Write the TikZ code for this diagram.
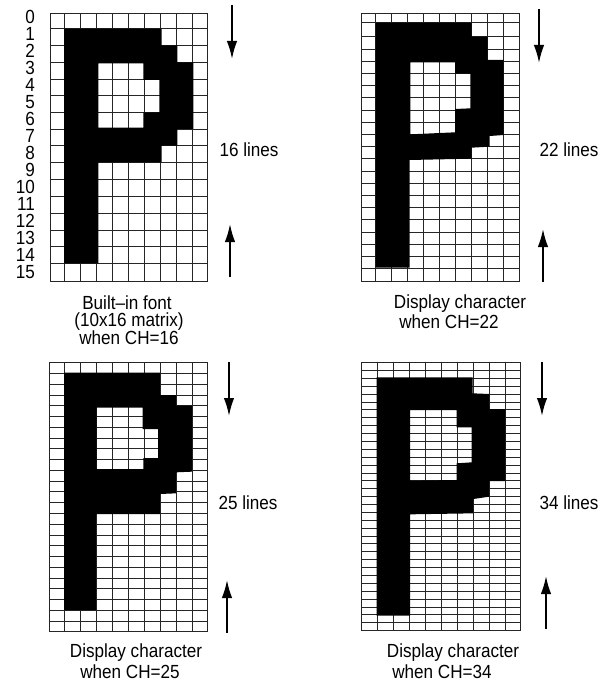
\documentclass[tikz,border=0pt]{standalone}
\usepackage{fontspec}
\setmainfont{Liberation Sans}
\newfontfamily\tallfont[FakeStretch=0.9]{Liberation Sans}
\usetikzlibrary{arrows.meta}
\tikzset{
  gridline/.style={draw=black!85,line width=1pt},
  glyph/.style={fill=black,even odd rule},
  txt/.style={inner sep=0pt,font=\tallfont\fontsize{19}{20}\selectfont},
  bigarrow/.style={-{Latex[length=18pt,width=10.5pt]},line width=1.8pt,black}
}
\newcommand{\gridlines}[6]{% x-list, y-list, xmin, xmax, ymin, ymax (snapped to whole pixels)
  \foreach \gx in {#1} {\pgfmathsetmacro\sx{3*(floor(\gx/3)+0.5)}\draw[gridline,line cap=rect] (\sx,#5) -- (\sx,#6);}
  \foreach \gy in {#2} {\pgfmathsetmacro\sy{3*(floor(\gy/3)+0.5)}\draw[gridline,line cap=rect] (#3,\sy) -- (#4,\sy);}
}
\begin{document}
\begin{tikzpicture}[x=1pt,y=-1pt]
\useasboundingbox (0,0) rectangle (608,682);
\fill[white] (0,0) rectangle (608,682);

% panel 1
\begin{scope}[scale=1/3]
\gridlines{150,192,240,288,336,384,432,480,528,576,622}{40,86,136,187,237,287,337,387,437,487,537,590,640,690,740,790,843}{151.5}{622.5}{40.5}{843}
\path[glyph] (192,86)--(485,86)--(485,136)--(532,136)--(532,187)--(580,187)--(580,387)--(532,387)--(532,437)--(485,437)--(485,487)--(295,487)--(295,790)--(192,790)--cycle
 (295,190)--(430,190)--(430,240)--(478,240)--(478,337)--(430,337)--(430,383)--(295,383)--cycle;
\end{scope}
\foreach \n in {0,...,15} {
  \node[txt,anchor=east] (row\n) at (35,{17+\n*17}) {\n};
}
\coordinate (a1s) at (232,5);  \coordinate (a1e) at (232,59);
\coordinate (b1s) at (230,277); \coordinate (b1e) at (230,224);
\draw[bigarrow] (a1s) -- (a1e);
\draw[bigarrow] (b1s) -- (b1e);
\node[txt] (l1) at (249,150) {16 lines};
\node[txt] (c1a) at (127,303) {Built–in font};
\node[txt] (c1b) at (129,322) {(10x16 matrix)};
\node[txt] (c1c) at (129,338) {when CH=16};

% panel 2
\begin{scope}[shift={(340,0)},scale=1/3]
\gridlines{65,107,155,203,251,299,347,395,443,491,537}{40,68,110,147,183,220,257,293,330,366,403,440,476,513,550,586,623,659,696,732,769,805,843}{64.5}{538.5}{40.5}{843}
\path[glyph] (107,68)--(395,68)--(395,110)--(443,110)--(443,180)--(491,180)--(491,405)--(449,408)--(449,440)--(395,443)--(395,476)--(209,480)--(209,803)--(107,803)--cycle
 (211,187)--(345,187)--(345,221)--(391,221)--(391,325)--(345,327)--(345,397)--(211,403)--cycle;
\end{scope}
\coordinate (a2s) at (539,9);  \coordinate (a2e) at (539,63);
\coordinate (b2s) at (543,282); \coordinate (b2e) at (543,229);
\draw[bigarrow] (a2s) -- (a2e);
\draw[bigarrow] (b2s) -- (b2e);
\node[txt] (l2) at (569,150) {22 lines};
\node[txt] (c2a) at (460,304) {Display character};
\node[txt] (c2b) at (449,322) {when CH=22};

% panel 3
\begin{scope}[shift={(30,340)},scale=1/3]
\gridlines{58,102,150,198,246,294,342,390,438,486,532}{68,100,132,165,197,229,262,294,326,358,391,423,455,488,520,552,585,617,649,681,714,746,778,810,843,875}{58.5}{532.5}{67.5}{874.5}
\path[glyph] (102,98)--(390,98)--(390,165)--(438,165)--(438,197)--(486,197)--(486,395)--(438,397)--(438,460)--(390,462)--(390,522)--(198,522)--(198,810)--(102,810)--cycle
 (200,203)--(338,203)--(338,267)--(384,267)--(384,354)--(340,354)--(340,387)--(200,387)--cycle;
\end{scope}
\coordinate (a3s) at (229,362);  \coordinate (a3e) at (229,416);
\coordinate (b3s) at (227,633); \coordinate (b3e) at (227,580);
\draw[bigarrow] (a3s) -- (a3e);
\draw[bigarrow] (b3s) -- (b3e);
\node[txt] (l3) at (248,503) {25 lines};
\node[txt] (c3a) at (136,653) {Display character};
\node[txt] (c3b) at (130,671.5) {when CH=25};

% panel 4
\begin{scope}[shift={(340,340)},scale=1/3]
\gridlines{64,112,160,208,256,304,352,400,448,496,540}{68,91.6,115.3,138.9,162.6,186.2,209.9,233.5,257.2,280.8,304.5,328.1,351.8,375.4,399.1,422.7,446.4,470,493.6,517.3,540.9,564.6,588.2,611.9,635.5,659.2,682.8,706.5,730.1,753.8,777.4,801.1,824.7,848.4,872}{64.5}{541.5}{67.5}{871.5}
\path[glyph] (110,112)--(398,112)--(398,160)--(448,162)--(448,207)--(496,207)--(496,423)--(448,423)--(448,470)--(400,477)--(400,520)--(210,523)--(210,827)--(110,827)--cycle
 (210,210)--(350,210)--(350,262)--(395,262)--(395,367)--(350,370)--(350,420)--(210,422)--cycle;
\end{scope}
\coordinate (a4s) at (542,362);  \coordinate (a4e) at (542,416);
\coordinate (b4s) at (546,629); \coordinate (b4e) at (546,576);
\draw[bigarrow] (a4s) -- (a4e);
\draw[bigarrow] (b4s) -- (b4e);
\node[txt] (l4) at (569,503) {34 lines};
\node[txt] (c4a) at (453,653) {Display character};
\node[txt] (c4b) at (442,671.5) {when CH=34};
\end{tikzpicture}
\end{document}
